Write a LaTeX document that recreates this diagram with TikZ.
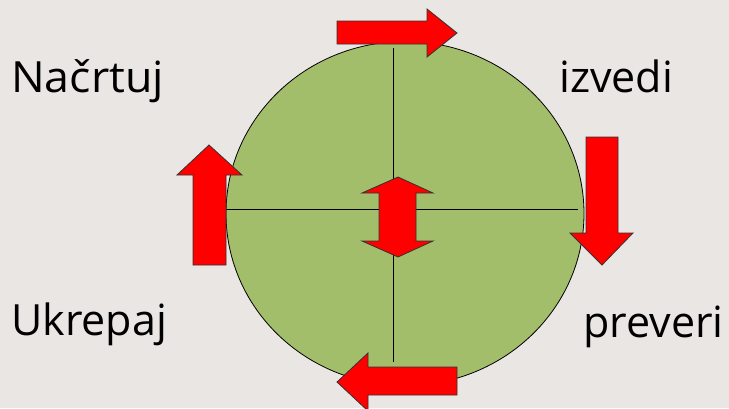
\documentclass[tikz,border=0pt]{standalone}
\usepackage{fontspec}
\setmainfont{Open Sans}
\definecolor{bg}{HTML}{EAE6E3}
\definecolor{disc}{HTML}{A3BE6B}
\begin{document}
\begin{tikzpicture}[x=1pt,y=-1pt,
  redarrow/.style={fill=red,draw=black!80,line width=0.8pt,line join=miter},
  lbl/.style={anchor=base west,inner sep=0pt,font=\fontsize{43}{50}\selectfont}]
\fill[bg] (0,0) rectangle (729,408);
\useasboundingbox (0,0) rectangle (729,408);
\draw[fill=disc,line width=0.8pt] (405,213.5) ellipse [x radius=179,y radius=172];
\coordinate (hl) at (226,209);
\coordinate (hr) at (578,209);
\coordinate (vt) at (393,48);
\coordinate (vb) at (393,362);
\draw[line width=0.8pt] (hl) -- (hr);
\draw[line width=0.8pt] (vt) -- (vb);
% top arrow (right)
\draw[redarrow] (337,21) -- (427,21) -- (427,9) -- (457,33) -- (427,57) -- (427,44) -- (337,44) -- cycle;
% right arrow (down)
\draw[redarrow] (586,137) -- (618,137) -- (618,233) -- (633,233) -- (602,265) -- (570,233) -- (586,233) -- cycle;
% bottom arrow (left)
\draw[redarrow] (457,367) -- (368,367) -- (368,353) -- (337,382) -- (368,411) -- (368,395) -- (457,395) -- cycle;
% left arrow (up)
\draw[redarrow] (193,265) -- (193,175) -- (177,175) -- (209,145) -- (242,175) -- (226,175) -- (226,265) -- cycle;
% centre double arrow
\draw[redarrow] (398,177) -- (433,193) -- (416,193) -- (416,241) -- (433,241) -- (398,257) -- (362,241) -- (379,241) -- (379,193) -- (362,193) -- cycle;
\node[lbl] (nacrtuj) at (11,92) {\addfontfeature{FakeStretch=1.04}Načrtuj};
\node[lbl] (izvedi) at (559,92) {izvedi};
\node[lbl] (ukrepaj) at (11,335) {Ukrepaj};
\node[lbl] (preveri) at (583,337) {preveri};
\end{tikzpicture}
\end{document}
